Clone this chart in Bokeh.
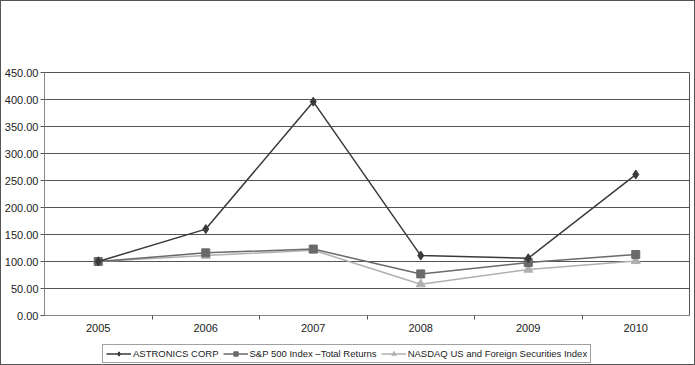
from bokeh.plotting import figure
from bokeh.models import Range1d, FixedTicker, Legend, LegendItem, NumeralTickFormatter
from bokeh.layouts import column
from bokeh.embed import file_html
from bokeh.resources import INLINE

years = ["2005", "2006", "2007", "2008", "2009", "2010"]
astronics = [100, 160, 396, 111, 106, 261]
sp500 = [100, 116, 123, 77, 98, 113]
nasdaq = [100, 111, 121, 58, 85, 101]
y_ticks = [0, 50, 100, 150, 200, 250, 300, 350, 400, 450]

xs = [i + 0.5 for i in range(len(years))]
FONT = "Liberation Sans"
BORDER = "1px solid #555555"

p = figure(width=695, height=340, output_backend="svg", toolbar_location=None,
           x_range=Range1d(0, len(years)), y_range=Range1d(0, 450),
           min_border_left=43, min_border_right=7, min_border_top=71, min_border_bottom=26)
p.styles = {"border-top": BORDER, "border-left": BORDER, "border-right": BORDER,
            "box-sizing": "border-box"}
p.background_fill_color = "white"
p.border_fill_color = "white"
p.outline_line_color = "#555555"
p.outline_line_width = 1

p.xaxis.ticker = FixedTicker(ticks=xs, minor_ticks=[1, 2, 3, 4, 5])
p.xaxis.major_label_overrides = {x: y for x, y in zip(xs, years)}
p.xaxis.major_tick_line_color = None
p.xaxis.minor_tick_line_color = "#555555"
p.xaxis.minor_tick_out = 4
p.xaxis.minor_tick_in = 0
p.xaxis.axis_line_color = "#888888"
p.xaxis.major_label_text_font = FONT
p.xaxis.major_label_text_font_size = "11px"
p.xaxis.major_label_text_color = "#222222"
p.xaxis.major_label_standoff = 2

p.yaxis.ticker = FixedTicker(ticks=y_ticks)
p.yaxis.formatter = NumeralTickFormatter(format="0.00")
p.yaxis.minor_tick_line_color = None
p.yaxis.major_tick_out = 4
p.yaxis.major_tick_in = 0
p.yaxis.major_tick_line_color = "#555555"
p.yaxis.axis_line_color = "#888888"
p.yaxis.major_label_text_font = FONT
p.yaxis.major_label_text_font_size = "11px"
p.yaxis.major_label_text_color = "#222222"
p.yaxis.major_label_standoff = 2

p.xgrid.grid_line_color = None
p.ygrid.ticker = FixedTicker(ticks=y_ticks)
p.ygrid.grid_line_color = "#555555"
p.ygrid.grid_line_width = 1

series = [
    ("ASTRONICS CORP", astronics, "#3a3a3a", "diamond", 9),
    ("S&P 500 Index \u2013Total Returns", sp500, "#6a6a6a", "square", 8),
    ("NASDAQ US and Foreign Securities Index", nasdaq, "#b0b0b0", "triangle", 9),
]
for name, vals, col, marker, size in [series[2], series[1], series[0]]:
    p.line(xs, vals, line_color=col, line_width=1.5)
    p.scatter(xs, vals, marker=marker, size=size, fill_color=col, line_color=col)

# legend strip below the chart; same series drawn out of view, only used for legend glyphs
q = figure(width=695, height=25, output_backend="svg", toolbar_location=None,
           x_range=Range1d(0, 1), y_range=Range1d(-20, -10),
           min_border=0, min_border_left=0, min_border_right=0,
           min_border_top=0, min_border_bottom=0,
           x_axis_location=None, y_axis_location=None)
q.styles = {"border-bottom": BORDER, "border-left": BORDER, "border-right": BORDER,
            "box-sizing": "border-box"}
q.outline_line_color = None
q.xgrid.visible = False
q.ygrid.visible = False
q.background_fill_color = "white"
q.border_fill_color = "white"
items = []
for name, vals, col, marker, size in series:
    l = q.line(xs, vals, line_color=col, line_width=1.5)
    s = q.scatter(xs, vals, marker=marker, size=6, fill_color=col, line_color=col)
    items.append(LegendItem(label=name, renderers=[l, s]))

legend = Legend(items=items, orientation="horizontal", location=(58, 2),
                label_text_font=FONT, label_text_font_size="9.5px", label_text_color="#222222",
                glyph_width=25, glyph_height=11, label_standoff=2, spacing=4,
                padding=3, margin=0, border_line_color="#444444",
                background_fill_color="white", background_fill_alpha=1.0,
                label_height=11)
q.add_layout(legend, "center")

layout = column(p, q, spacing=0)
open("out.html", "w").write(file_html(layout, INLINE))
